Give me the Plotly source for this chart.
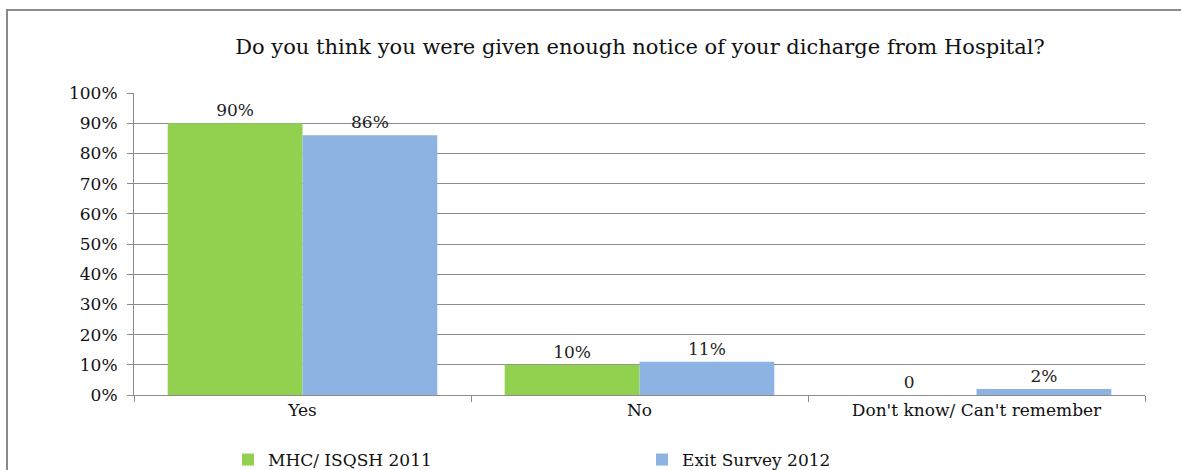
import plotly.graph_objects as go

categories = ["Yes", "No", "Don't know/ Can't remember"]
series_names = ["MHC/ ISQSH 2011", "Exit Survey 2012"]
mhc_values = [90, 10, 0]
exit_values = [86, 11, 2]
mhc_labels = ["90%", "10%", "0"]
exit_labels = ["86%", "11%", "2%"]
y_ticks = [0, 10, 20, 30, 40, 50, 60, 70, 80, 90, 100]
y_tick_text = [f"{v}%" for v in y_ticks]

FONT = "DejaVu Serif"
W, H = 1181, 470
L, R, T, B = 134, 36, 93, 75
pw, ph = W - L - R, H - T - B

fig = go.Figure()
fig.add_trace(go.Bar(x=categories, y=mhc_values, name=series_names[0],
                     marker=dict(color="#92D050", line=dict(width=0)),
                     text=mhc_labels, textposition="outside", cliponaxis=False,
                     textfont=dict(family=FONT, size=17, color="#222")))
fig.add_trace(go.Bar(x=categories, y=exit_values, name=series_names[1],
                     marker=dict(color="#8DB3E2", line=dict(width=0)),
                     text=exit_labels, textposition="outside", cliponaxis=False,
                     textfont=dict(family=FONT, size=17, color="#222")))

def px_x(p):
    return (p - L) / pw

def px_y(p):
    return (H - B - p) / ph

fig.update_layout(
    width=W, height=H,
    margin=dict(l=L, r=R, t=T, b=B, autoexpand=False),
    paper_bgcolor="white", plot_bgcolor="white",
    barmode="group", bargap=0.2, bargroupgap=0,
    font=dict(family=FONT, color="#111", size=16),
    title=dict(text="Do you think you were given enough notice of your dicharge from Hospital?",
               x=px_x(640), xref="paper", xanchor="center",
               y=1 - 47 / H, yanchor="middle",
               font=dict(family=FONT, size=21, color="#111")),
    showlegend=True,
    legend=dict(orientation="h", x=px_x(228), xanchor="left",
                y=px_y(460), yanchor="middle",
                entrywidth=369, entrywidthmode="pixels",
                font=dict(family=FONT, size=17, color="#111"),
                bgcolor="rgba(0,0,0,0)", itemclick=False),
    xaxis=dict(showline=True, linecolor="#8c8c8c", linewidth=1,
               ticks="outside", ticklen=6, tickcolor="#8c8c8c",
               tickson="boundaries", showgrid=False,
               tickfont=dict(family=FONT, size=17, color="#111")),
    yaxis=dict(range=[0, 100], tickvals=y_ticks, ticktext=y_tick_text,
               showline=True, linecolor="#8c8c8c", linewidth=1,
               ticks="outside", ticklen=6, tickcolor="#8c8c8c",
               ticklabelstandoff=6,
               showgrid=True, gridcolor="#8c8c8c", gridwidth=1,
               zeroline=False,
               tickfont=dict(family=FONT, size=17, color="#111")),
    shapes=[dict(type="rect", xref="paper", yref="paper",
                 x0=px_x(7), x1=px_x(1200), y0=px_y(10), y1=px_y(490),
                 line=dict(color="#8a8a8a", width=2), layer="below")],
)

fig.write_html("out.html", config={"displayModeBar": False},
               post_script="document.body.style.margin='0';document.body.style.overflow='hidden';")
